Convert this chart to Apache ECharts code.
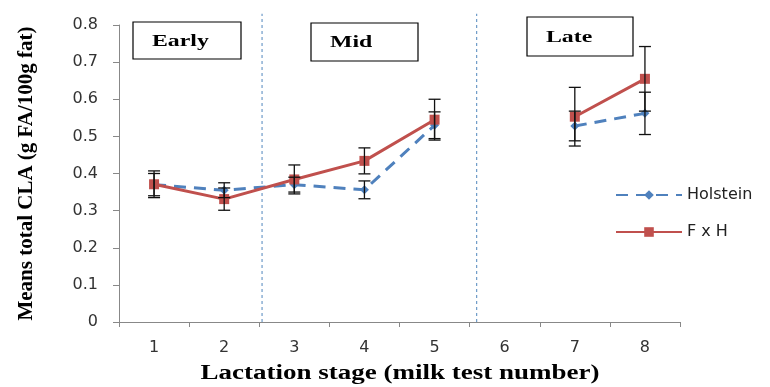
<!DOCTYPE html>
<html>
<head>
<meta charset="utf-8">
<script src="https://cdn.jsdelivr.net/npm/echarts@6/dist/echarts.min.js"></script>
<style>
  html, body { margin: 0; padding: 0; background: #fff; }
  #chart { width: 770px; height: 387px; }
</style>
</head>
<body>
<div id="chart"></div>
<script>
// Milk test numbers along the lactation
const categories = ['1', '2', '3', '4', '5', '6', '7', '8'];

// Mean total CLA (g FA/100g fat); test 6 has no value
const holstein = [0.370, 0.355, 0.370, 0.356, 0.530, null, 0.528, 0.562];
const fxh      = [0.371, 0.331, 0.384, 0.434, 0.545, null, 0.553, 0.655];

// Half-widths of the error bars
const holsteinErr = [0.030, 0.020, 0.020, 0.024, 0.036, null, 0.040, 0.057];
const fxhErr      = [0.036, 0.030, 0.039, 0.035, 0.055, null, 0.079, 0.087];

// Boundaries between lactation stages (in test-number units)
const stageBreaks = [2.54, 5.6];
const stageNames = ['Early', 'Mid', 'Late'];

const xTitle = 'Lactation stage (milk test number)';
const yTitle = 'Means total CLA (g FA/100g fat)';

const BLUE = '#4F81BD';
const RED = '#C0504D';

function errorRows(vals, errs) {
  const rows = [];
  vals.forEach((v, i) => {
    if (v != null && errs[i] != null) rows.push([i, v - errs[i], v + errs[i]]);
  });
  return rows;
}

function renderErr(params, api) {
  const x = api.value(0);
  const lo = api.coord([x, api.value(1)]);
  const hi = api.coord([x, api.value(2)]);
  const half = 6;
  const style = { stroke: '#111', lineWidth: 1.3 };
  return {
    type: 'group',
    children: [
      { type: 'line', shape: { x1: lo[0], y1: lo[1], x2: hi[0], y2: hi[1] }, style },
      { type: 'line', shape: { x1: lo[0] - half, y1: lo[1], x2: lo[0] + half, y2: lo[1] }, style },
      { type: 'line', shape: { x1: hi[0] - half, y1: hi[1], x2: hi[0] + half, y2: hi[1] }, style }
    ]
  };
}

// Dotted vertical divider between stages, from the x axis up past the top of the plot
function renderBreak(params, api) {
  const x = api.value(0);
  const bottom = api.coord([x, 0]);
  const top = api.coord([x, 0.83]);
  return {
    type: 'line',
    shape: { x1: bottom[0], y1: bottom[1], x2: top[0], y2: top[1] },
    style: { stroke: '#6E9BC8', lineWidth: 1.2, lineDash: [3, 3] }
  };
}

const chart = echarts.init(document.getElementById('chart'), null, { renderer: 'canvas' });

const SERIF_BOLD = '"Liberation Serif", "Times New Roman", serif';

function stageBox(left, top, w, h, text) {
  return {
    type: 'group',
    x: left, y: top,
    children: [
      { type: 'rect', shape: { x: 0, y: 0, width: w, height: h },
        style: { fill: '#fff', stroke: '#000', lineWidth: 1.2 } },
      { type: 'text', x: 19, y: h / 2 + 1, scaleX: 1.4,
        style: { text: text, fill: '#000', fontFamily: SERIF_BOLD, fontWeight: 'bold',
                 fontSize: 17, verticalAlign: 'middle' } }
    ]
  };
}

chart.setOption({
  animation: false,
  backgroundColor: '#fff',
  grid: { left: 119, right: 90, top: 25, bottom: 65, containLabel: false },
  legend: {
    orient: 'vertical',
    left: 610, top: 182,
    itemWidth: 66, itemHeight: 12, itemGap: 21,
    textStyle: { fontFamily: 'DejaVu Sans', fontSize: 16, color: '#222', padding: [0, 0, 0, 0] },
    data: ['Holstein', 'F x H']
  },
  xAxis: [{
    type: 'category',
    data: categories,
    boundaryGap: true,
    axisLine: { lineStyle: { color: '#888', width: 1 } },
    axisTick: { show: true, length: 5, lineStyle: { color: '#888' } },
    axisLabel: { fontFamily: 'DejaVu Sans', fontSize: 16, color: '#333', margin: 18 }
  }, {
    type: 'value',
    min: 0.5, max: 8.5,
    show: false
  }],
  yAxis: {
    type: 'value',
    min: 0, max: 0.8, interval: 0.1,
    splitLine: { show: false },
    axisLine: { show: true, lineStyle: { color: '#888', width: 1 } },
    axisTick: { show: true, length: 6, lineStyle: { color: '#888' } },
    axisLabel: {
      fontFamily: 'DejaVu Sans', fontSize: 16, color: '#333', margin: 21,
      formatter: v => (v === 0 ? '0' : v.toFixed(1))
    },
    name: yTitle,
    nameLocation: 'middle',
    nameGap: 82,
    nameTextStyle: { fontFamily: SERIF_BOLD, fontWeight: 'bold', fontSize: 21, color: '#000' }
  },
  graphic: [
    stageBox(133, 22, 108, 37, stageNames[0]),
    stageBox(311, 23, 107, 38, stageNames[1]),
    stageBox(527, 17, 106, 39, stageNames[2]),
    {
      type: 'text',
      x: 400, y: 374, scaleX: 1.35,
      style: { text: xTitle, fill: '#000', fontFamily: SERIF_BOLD, fontWeight: 'bold',
               fontSize: 20, align: 'center', verticalAlign: 'middle' }
    }
  ],
  series: [
    {
      name: 'stage-breaks',
      type: 'custom',
      xAxisIndex: 1,
      renderItem: renderBreak,
      data: stageBreaks.map(v => [v, 0]),
      encode: { x: 0, y: 1 },
      silent: true,
      z: 1
    },
    {
      name: 'Holstein',
      type: 'line',
      data: holstein,
      connectNulls: false,
      symbol: 'diamond',
      symbolSize: 9,
      itemStyle: { color: BLUE },
      lineStyle: { color: BLUE, width: 3, type: [12, 8] },
      z: 3
    },
    {
      name: 'F x H',
      type: 'line',
      data: fxh,
      connectNulls: false,
      symbol: 'rect',
      symbolSize: 10,
      itemStyle: { color: RED },
      lineStyle: { color: RED, width: 3 },
      z: 4
    },
    {
      name: 'Holstein error',
      type: 'custom',
      renderItem: renderErr,
      data: errorRows(holstein, holsteinErr),
      encode: { x: 0, y: [1, 2] },
      silent: true,
      z: 5
    },
    {
      name: 'F x H error',
      type: 'custom',
      renderItem: renderErr,
      data: errorRows(fxh, fxhErr),
      encode: { x: 0, y: [1, 2] },
      silent: true,
      z: 5
    }
  ]
});
</script>
</body>
</html>
